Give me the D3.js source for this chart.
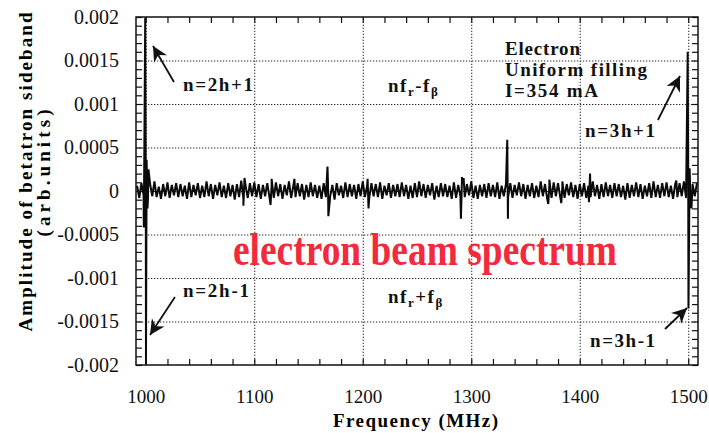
<!DOCTYPE html>
<html>
<head>
<meta charset="utf-8">
<script src="https://cdn.jsdelivr.net/npm/d3@7"></script>
<style>
body { margin: 0; background: #fff; }
text { font-family: "Liberation Serif", "Times New Roman", serif; }
</style>
</head>
<body>
<div id="chart"></div>
<script>
var svgWidth = 709;
var svgHeight = 433;

var margin = {
    top: 17,
    right: 11,
    bottom: 68,
    left: 136
};

var chartWidth = svgWidth - margin.left - margin.right;
var chartHeight = svgHeight - margin.top - margin.bottom;

// sampled trace, one value every 2 MHz from 992 MHz, in units of 1e-5
var traceStart = 992;
var traceStep = 2;
var noise = [
  6,-8,9,-5,7,-10,8,-6,11,-7,5,-9,8,-6,10,-8,7,-5,9,-7,
  8,-6,6,-9,10,-7,7,-5,9,-8,6,-7,11,-6,8,-9,7,-5,10,-7,
  6,-8,9,-6,7,-10,8,-7,12,-9,6,-8,9,-6,10,-7,8,-9,7,-6,
  9,-7,6,-8,10,-6,8,-9,7,-5,11,-8,6,-7,9,-6,8,-10,7,-7,
  10,-6,7,-8,6,-9,9,-7,8,-6,7,-10,9,-5,6,-8,10,-7,8,-6,
  7,-9,8,-6,11,-7,6,-8,9,-6,8,-7,10,-9,6,-5,9,-8,7,-6,
  8,-7,10,-6,7,-9,6,-8,9,-7,11,-6,8,-8,7,-5,9,-10,6,-7,
  9,-6,8,-7,6,-9,10,-8,7,-6,9,-7,8,-5,11,-8,6,-9,7,-6,
  8,-8,9,-6,7,-7,10,-9,6,-6,8,-7,9,-8,7,-5,10,-6,8,-9,
  7,-6,9,-8,6,-7,11,-6,8,-9,7,-8,10,-6,9,-7,6,-8,8,-5,
  10,-7,7,-9,8,-6,9,-8,6,-7,11,-6,7,-9,8,-7,10,-6,7,-8,
  9,-6,8,-7,6,-10,9,-8,7,-6,10,-7,8,-9,6,-6,9,-8,11,-7,
  7,-8,9,-6,10,-7,6,-9,8,-7,9,-6,11,-8,7,-9,8,-6,9
];

// sidebands and stray lines sitting on top of the trace (MHz, 1e-5 units)
var spikeFreqs  = [998.2, 999.5, 1000.2, 1000.8, 1001.6, 1002.5, 1090, 1091, 1115, 1116, 1137,
                   1167.5, 1168.3, 1204.5, 1205.3, 1290.5, 1291.5, 1293, 1333.2, 1333.8,
                   1371, 1372, 1383, 1384, 1408.5, 1409.5, 1489, 1499.5, 1500.2, 1501.3, 1503];
var spikeValues = [-42, 199, -199, 36, -20, 25, -17, 15, -16, 14, 14,
                   28, -29, 14, -20, -32, 16, 15, 59, -32,
                   -15, 13, -14, 11, -13, 20, 12, 160, -135, 26, -20];

var xTicks = [1000, 1100, 1200, 1300, 1400, 1500];
var xTickLabels = ["1000", "1100", "1200", "1300", "1400", "1500"];
var yTicks = [-0.002, -0.0015, -0.001, -0.0005, 0, 0.0005, 0.001, 0.0015, 0.002];
var yTickLabels = ["-0.002", "-0.0015", "-0.001", "-0.0005", "0", "0.0005", "0.001", "0.0015", "0.002"];

var serif = "Liberation Serif, Times New Roman, serif";

var svg = d3.select("#chart")
  .append("svg")
  .attr("height", svgHeight)
  .attr("width", svgWidth);

var chartGroup = svg.append("g")
  .attr("transform", `translate(${margin.left}, ${margin.top})`);

var xScale = d3.scaleLinear()
  .domain([991, 1509])
  .range([0, chartWidth]);
var yScale = d3.scaleLinear()
  .domain([-0.002, 0.002])
  .range([chartHeight, 0]);

// dotted grid
chartGroup.append("g")
  .attr("class", "grid")
  .attr("transform", `translate(0, ${chartHeight})`)
  .call(d3.axisBottom(xScale).tickValues(xTicks).tickSize(-chartHeight).tickFormat(""));
chartGroup.append("g")
  .attr("class", "grid")
  .call(d3.axisLeft(yScale).tickValues(yTicks.slice(1, -1)).tickSize(-chartWidth).tickFormat(""));
chartGroup.selectAll(".grid .domain").remove();
chartGroup.selectAll(".grid line")
  .attr("stroke", "#222")
  .attr("stroke-width", 1)
  .attr("stroke-dasharray", "1.3,1.7");

// trace
var points = noise.map(function (v, i) { return {f: traceStart + traceStep * i, v: v * 1e-5}; });
spikeFreqs.forEach(function (f, i) { points.push({f: f, v: spikeValues[i] * 1e-5}); });
points.sort(function (a, b) { return a.f - b.f; });

chartGroup.append("clipPath").attr("id", "clip")
  .append("rect").attr("width", chartWidth).attr("height", chartHeight);

chartGroup.append("path")
  .datum(points)
  .attr("clip-path", "url(#clip)")
  .attr("fill", "none")
  .attr("stroke", "#0a0a0a")
  .attr("stroke-width", 2)
  .attr("stroke-linejoin", "miter")
  .attr("d", d3.line().x(d => xScale(d.f)).y(d => yScale(d.v)));

// axes, ticks point inward
var xMinor = d3.range(1000, 1501, 20);
var yMinor = d3.range(-20, 21).map(d => d * 0.0001);

var axisStyle = function (g) {
  g.select(".domain").remove();
  g.selectAll("line").attr("stroke", "#111").attr("stroke-width", 1.2);
  g.attr("font-family", serif).attr("fill", "#111");
  g.selectAll("text").attr("font-family", serif).attr("fill", "#111");
};

chartGroup.append("g")
  .attr("transform", `translate(0, ${chartHeight})`)
  .call(d3.axisBottom(xScale).tickValues(xMinor).tickSize(-6).tickFormat(""))
  .call(axisStyle);
chartGroup.append("g")
  .call(d3.axisTop(xScale).tickValues(xMinor).tickSize(-6).tickFormat(""))
  .call(axisStyle);
chartGroup.append("g")
  .call(d3.axisLeft(yScale).tickValues(yMinor).tickSize(-6).tickFormat(""))
  .call(axisStyle);
chartGroup.append("g")
  .attr("transform", `translate(${chartWidth}, 0)`)
  .call(d3.axisRight(yScale).tickValues(yMinor).tickSize(-6).tickFormat(""))
  .call(axisStyle);

chartGroup.append("g")
  .attr("transform", `translate(0, ${chartHeight})`)
  .call(d3.axisBottom(xScale).tickValues(xTicks).tickSize(0).tickPadding(25)
    .tickFormat((d, i) => xTickLabels[i]))
  .call(axisStyle)
  .attr("font-size", 19);
chartGroup.append("g")
  .call(d3.axisLeft(yScale).tickValues(yTicks).tickSize(0).tickPadding(17)
    .tickFormat((d, i) => yTickLabels[i]))
  .call(axisStyle)
  .attr("font-size", 20);

chartGroup.append("rect")
  .attr("width", chartWidth)
  .attr("height", chartHeight)
  .attr("fill", "none")
  .attr("stroke", "#111")
  .attr("stroke-width", 1.5);

// axis titles
svg.append("text")
  .attr("transform", "translate(32, 172) rotate(-90)")
  .attr("text-anchor", "middle")
  .attr("font-family", serif)
  .attr("font-size", 19)
  .attr("font-weight", "bold")
  .attr("textLength", 319)
  .attr("lengthAdjust", "spacing")
  .text("Amplitude of betatron sideband");
svg.append("text")
  .attr("transform", "translate(50, 173) rotate(-90)")
  .attr("text-anchor", "middle")
  .attr("font-family", serif)
  .attr("font-size", 19)
  .attr("font-weight", "bold")
  .attr("textLength", 127)
  .attr("lengthAdjust", "spacing")
  .text("(arb.units)");
svg.append("text")
  .attr("x", 333)
  .attr("y", 427)
  .attr("font-family", serif)
  .attr("font-size", 19)
  .attr("font-weight", "bold")
  .attr("textLength", 165)
  .attr("lengthAdjust", "spacing")
  .text("Frequency (MHz)");

// annotations, placed in data coordinates
var labelTexts = ["n=2h+1", "n=2h-1", "n=3h+1", "n=3h-1", "Electron", "Uniform filling", "I=354 mA"];
var labelFreqs = [1034.3, 1034.3, 1404.9, 1409.5, 1331.1, 1331.1, 1331.1];
var labelValues = [0.00115, -0.001218, 0.000621, -0.001793, 0.001563, 0.001322, 0.00108];
var labelWidths = [70, 66, 70, 65, 75, 142, 93];

labelTexts.forEach(function (t, i) {
  chartGroup.append("text")
    .attr("x", xScale(labelFreqs[i]))
    .attr("y", yScale(labelValues[i]))
    .attr("font-family", serif)
    .attr("font-size", 19)
    .attr("font-weight", "bold")
    .attr("fill", "#111")
    .attr("textLength", labelWidths[i])
    .attr("lengthAdjust", "spacing")
    .text(t);
});

var sideSigns = ["-", "+"];
var sideValues = [0.001138, -0.001287];
sideSigns.forEach(function (s, i) {
  var t = chartGroup.append("text")
    .attr("x", xScale(1223.3))
    .attr("y", yScale(sideValues[i]))
    .attr("font-family", serif)
    .attr("font-size", 19)
    .attr("font-weight", "bold")
    .attr("fill", "#111")
    .attr("letter-spacing", 1.5);
  t.append("tspan").text("nf");
  t.append("tspan").attr("dy", 4).attr("font-size", 13).text("r");
  t.append("tspan").attr("dy", -4).text(s + "f");
  t.append("tspan").attr("dy", 4).attr("font-size", 13).text("β");
});

svg.append("defs").append("marker")
  .attr("id", "head")
  .attr("viewBox", "0 0 10 10")
  .attr("refX", 10)
  .attr("refY", 5)
  .attr("markerUnits", "userSpaceOnUse")
  .attr("markerWidth", 19)
  .attr("markerHeight", 15)
  .attr("orient", "auto")
  .append("path")
  .attr("d", "M0,0 L10,5 L0,10 L3,5 Z")
  .attr("fill", "#111");

var arrowFrom = [[1026.0, 0.001253], [1026.9, -0.001218], [1472.1, 0.000816], [1478.6, -0.001586]];
var arrowTo = [[1006.7, 0.001667], [1003.9, -0.001655], [1492.4, 0.001322], [1498.9, -0.001345]];
arrowFrom.forEach(function (a, i) {
  chartGroup.append("line")
    .attr("x1", xScale(a[0]))
    .attr("y1", yScale(a[1]))
    .attr("x2", xScale(arrowTo[i][0]))
    .attr("y2", yScale(arrowTo[i][1]))
    .attr("stroke", "#111")
    .attr("stroke-width", 1.8)
    .attr("marker-end", "url(#head)");
});

chartGroup.append("text")
  .attr("x", xScale(1080.4))
  .attr("y", yScale(-0.00085))
  .attr("font-family", serif)
  .attr("font-size", 46)
  .attr("font-weight", "bold")
  .attr("fill", "#f32a3c")
  .attr("textLength", 384)
  .attr("lengthAdjust", "spacingAndGlyphs")
  .text("electron beam spectrum");
</script>
</body>
</html>
